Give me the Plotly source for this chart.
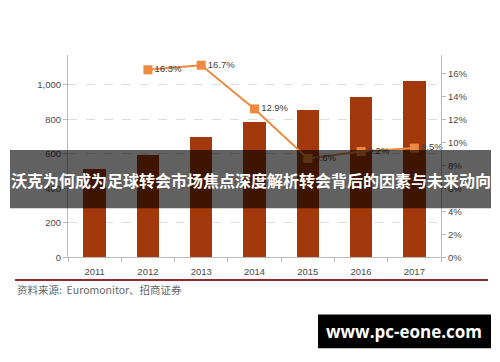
import plotly.graph_objects as go

years = ["2011", "2012", "2013", "2014", "2015", "2016", "2017"]
sales = [510, 594, 695, 784, 852, 930, 1019]
growth_years = ["2012", "2013", "2014", "2015", "2016", "2017"]
growth = [16.3, 16.7, 12.9, 8.6, 9.2, 9.5]
growth_labels = [f"{g:.1f}%" for g in growth]
left_ticks = [0, 200, 400, 600, 800, 1000]
right_ticks = [0, 2, 4, 6, 8, 10, 12, 14, 16]
title_text = "沃克为何成为足球转会市场焦点深度解析转会背后的因素与未来动向"
source_text = "资料来源:  Euromonitor、招商证券"
watermark = "www.pc-eone.com"

OFF = 8  # default page body margin
W, H = 500 - OFF, 362 - OFF
def px(x):
    return (x - OFF) / W
def py(y):
    return 1 - (y - OFF) / H

fig = go.Figure()
fig.add_trace(go.Bar(
    x=years, y=sales, marker=dict(color="#A3390A", line=dict(width=0)),
    width=0.42, yaxis="y", showlegend=False, hoverinfo="skip"))
fig.add_trace(go.Scatter(
    x=growth_years, y=growth, yaxis="y2", mode="lines+markers+text",
    line=dict(color="#EE8A40", width=2),
    marker=dict(symbol="square", size=9, color="#EE8A40"),
    text=growth_labels, textposition="middle right",
    textfont=dict(family="Liberation Sans, Arial", size=9.5, color="#444444"),
    showlegend=False, hoverinfo="skip", cliponaxis=False))

tickfont = dict(family="Liberation Sans, Arial", size=9.5, color="#4A4A4A")
fig.update_layout(
    width=W, height=H, margin=dict(l=0, r=0, t=0, b=0),
    paper_bgcolor="white", plot_bgcolor="white",
    bargap=0,
    xaxis=dict(domain=[px(68), px(441)], type="category",
               showline=True, linecolor="#BBBBBB", linewidth=1,
               ticks="outside", tickson="boundaries", ticklen=4, tickcolor="#BBBBBB",
               ticklabelstandoff=5,
               tickfont=tickfont, showgrid=False, fixedrange=True),
    yaxis=dict(domain=[py(261), py(56)], range=[0, 1171],
               tickvals=left_ticks, tickformat=",",
               showline=True, linecolor="#BBBBBB", linewidth=1,
               ticks="outside", ticklen=4, tickcolor="#BBBBBB",
               showgrid=True, gridcolor="#DDDDDD", griddash="dash", gridwidth=1,
               zeroline=False, tickfont=tickfont, fixedrange=True),
    yaxis2=dict(overlaying="y", side="right", range=[0, 17.56],
                tickvals=right_ticks, ticktext=[f"{t}%" for t in right_ticks],
                showline=True, linecolor="#BBBBBB", linewidth=1,
                ticks="outside", ticklen=4, tickcolor="#BBBBBB",
                showgrid=False, zeroline=False, tickfont=tickfont, fixedrange=True),
    shapes=[
        dict(type="line", xref="paper", yref="paper", x0=px(15), x1=px(488),
             y0=py(284), y1=py(284), line=dict(color="#8E2B2B", width=2)),
        dict(type="rect", xref="paper", yref="paper", x0=px(10), x1=px(491),
             y0=py(211), y1=py(152), fillcolor="rgba(0,0,0,0.62)",
             line=dict(width=0), layer="above"),
        dict(type="rect", xref="paper", yref="paper", x0=px(318), x1=px(491),
             y0=py(353), y1=py(319), fillcolor="black",
             line=dict(width=0), layer="above"),
    ],
    annotations=[
        dict(text=f"<b>{title_text}</b>", xref="paper", yref="paper",
             x=px(250.5), y=py(182), showarrow=False, xanchor="center", yanchor="middle",
             font=dict(family="Noto Sans CJK SC", size=16, color="white")),
        dict(text=source_text, xref="paper", yref="paper",
             x=px(15), y=py(294), showarrow=False, xanchor="left", yanchor="middle",
             font=dict(family="Noto Sans CJK SC, Liberation Sans", size=10.5, color="#666666")),
        dict(text=f"<b>{watermark}</b>", xref="paper", yref="paper",
             x=px(404), y=py(336), showarrow=False, xanchor="center", yanchor="middle",
             font=dict(family="Open Sans", size=17, color="white")),
    ],
)
fig.write_html("out.html")
